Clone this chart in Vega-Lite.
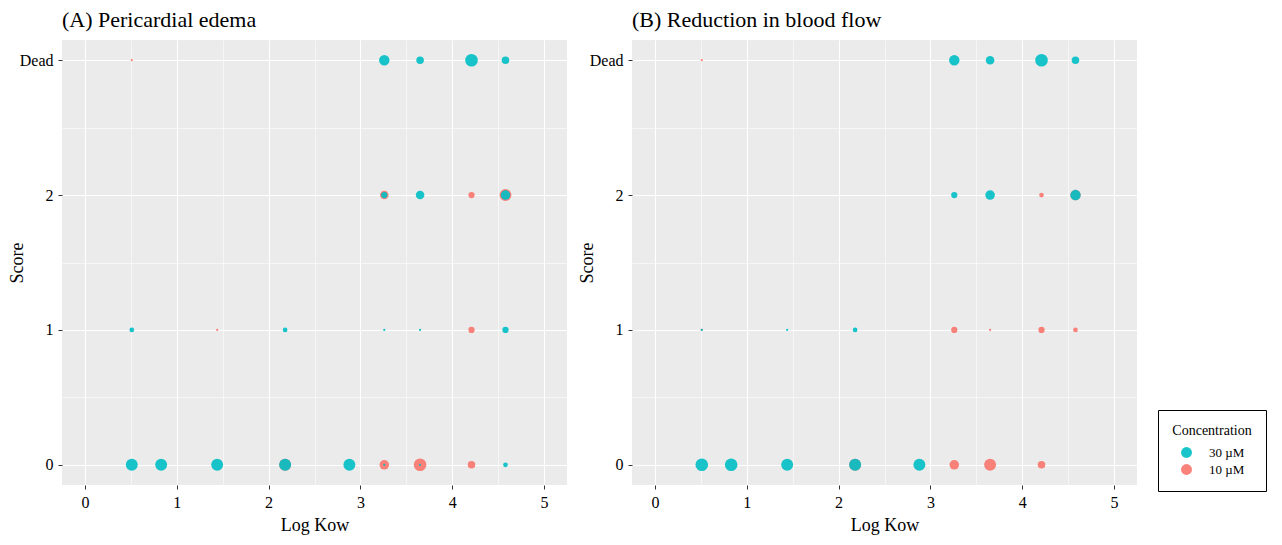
{
  "$schema": "https://vega.github.io/schema/vega-lite/v6.json",
  "background": "white",
  "padding": {"left": 8, "top": 9, "right": 2, "bottom": 2},
  "data": {"values": [
    {"panel": "A", "logKow": 0.51, "score": 3, "concentration": "10 µM", "n": 1},
    {"panel": "A", "logKow": 3.26, "score": 2, "concentration": "10 µM", "n": 5},
    {"panel": "A", "logKow": 4.21, "score": 2, "concentration": "10 µM", "n": 3},
    {"panel": "A", "logKow": 4.58, "score": 2, "concentration": "10 µM", "n": 9},
    {"panel": "A", "logKow": 1.44, "score": 1, "concentration": "10 µM", "n": 1},
    {"panel": "A", "logKow": 4.21, "score": 1, "concentration": "10 µM", "n": 3},
    {"panel": "A", "logKow": 2.18, "score": 0, "concentration": "10 µM", "n": 9},
    {"panel": "A", "logKow": 3.26, "score": 0, "concentration": "10 µM", "n": 6},
    {"panel": "A", "logKow": 3.65, "score": 0, "concentration": "10 µM", "n": 10},
    {"panel": "A", "logKow": 4.21, "score": 0, "concentration": "10 µM", "n": 4},
    {"panel": "B", "logKow": 0.51, "score": 3, "concentration": "10 µM", "n": 1},
    {"panel": "B", "logKow": 4.21, "score": 2, "concentration": "10 µM", "n": 2},
    {"panel": "B", "logKow": 4.58, "score": 2, "concentration": "10 µM", "n": 7},
    {"panel": "B", "logKow": 0.51, "score": 1, "concentration": "10 µM", "n": 1},
    {"panel": "B", "logKow": 3.26, "score": 1, "concentration": "10 µM", "n": 3},
    {"panel": "B", "logKow": 3.65, "score": 1, "concentration": "10 µM", "n": 1},
    {"panel": "B", "logKow": 4.21, "score": 1, "concentration": "10 µM", "n": 3},
    {"panel": "B", "logKow": 4.58, "score": 1, "concentration": "10 µM", "n": 2},
    {"panel": "B", "logKow": 2.18, "score": 0, "concentration": "10 µM", "n": 9},
    {"panel": "B", "logKow": 3.26, "score": 0, "concentration": "10 µM", "n": 6},
    {"panel": "B", "logKow": 3.65, "score": 0, "concentration": "10 µM", "n": 9},
    {"panel": "B", "logKow": 4.21, "score": 0, "concentration": "10 µM", "n": 4},
    {"panel": "A", "logKow": 3.26, "score": 3, "concentration": "30 µM", "n": 7},
    {"panel": "A", "logKow": 3.65, "score": 3, "concentration": "30 µM", "n": 4},
    {"panel": "A", "logKow": 4.21, "score": 3, "concentration": "30 µM", "n": 10},
    {"panel": "A", "logKow": 4.58, "score": 3, "concentration": "30 µM", "n": 4},
    {"panel": "A", "logKow": 3.26, "score": 2, "concentration": "30 µM", "n": 3},
    {"panel": "A", "logKow": 3.65, "score": 2, "concentration": "30 µM", "n": 5},
    {"panel": "A", "logKow": 4.58, "score": 2, "concentration": "30 µM", "n": 6},
    {"panel": "A", "logKow": 0.51, "score": 1, "concentration": "30 µM", "n": 2},
    {"panel": "A", "logKow": 2.18, "score": 1, "concentration": "30 µM", "n": 2},
    {"panel": "A", "logKow": 3.26, "score": 1, "concentration": "30 µM", "n": 1},
    {"panel": "A", "logKow": 3.65, "score": 1, "concentration": "30 µM", "n": 1},
    {"panel": "A", "logKow": 4.58, "score": 1, "concentration": "30 µM", "n": 3},
    {"panel": "A", "logKow": 0.51, "score": 0, "concentration": "30 µM", "n": 9},
    {"panel": "A", "logKow": 0.83, "score": 0, "concentration": "30 µM", "n": 9},
    {"panel": "A", "logKow": 1.44, "score": 0, "concentration": "30 µM", "n": 9},
    {"panel": "A", "logKow": 2.18, "score": 0, "concentration": "30 µM", "n": 9},
    {"panel": "A", "logKow": 2.88, "score": 0, "concentration": "30 µM", "n": 9},
    {"panel": "A", "logKow": 3.26, "score": 0, "concentration": "30 µM", "n": 1},
    {"panel": "A", "logKow": 3.65, "score": 0, "concentration": "30 µM", "n": 1},
    {"panel": "A", "logKow": 4.58, "score": 0, "concentration": "30 µM", "n": 2},
    {"panel": "B", "logKow": 3.26, "score": 3, "concentration": "30 µM", "n": 7},
    {"panel": "B", "logKow": 3.65, "score": 3, "concentration": "30 µM", "n": 5},
    {"panel": "B", "logKow": 4.21, "score": 3, "concentration": "30 µM", "n": 10},
    {"panel": "B", "logKow": 4.58, "score": 3, "concentration": "30 µM", "n": 4},
    {"panel": "B", "logKow": 3.26, "score": 2, "concentration": "30 µM", "n": 3},
    {"panel": "B", "logKow": 3.65, "score": 2, "concentration": "30 µM", "n": 6},
    {"panel": "B", "logKow": 4.58, "score": 2, "concentration": "30 µM", "n": 7},
    {"panel": "B", "logKow": 0.51, "score": 1, "concentration": "30 µM", "n": 1},
    {"panel": "B", "logKow": 1.44, "score": 1, "concentration": "30 µM", "n": 1},
    {"panel": "B", "logKow": 2.18, "score": 1, "concentration": "30 µM", "n": 2},
    {"panel": "B", "logKow": 0.51, "score": 0, "concentration": "30 µM", "n": 10},
    {"panel": "B", "logKow": 0.83, "score": 0, "concentration": "30 µM", "n": 10},
    {"panel": "B", "logKow": 1.44, "score": 0, "concentration": "30 µM", "n": 9},
    {"panel": "B", "logKow": 2.18, "score": 0, "concentration": "30 µM", "n": 9},
    {"panel": "B", "logKow": 2.88, "score": 0, "concentration": "30 µM", "n": 9}
  ]},
  "spacing": 11,
  "hconcat": [
    {
      "width": 505,
      "height": 445,
      "title": {"text": "(A) Pericardial edema"},
      "transform": [{"filter": "datum.panel == 'A'"}],
      "mark": {"type": "circle", "opacity": 0.9},
      "encoding": {
        "x": {"field": "logKow", "type": "quantitative", "title": "Log Kow",
              "scale": {"domain": [-0.25, 5.25], "nice": false, "zero": false},
              "axis": {"values": [0, 0.5, 1, 1.5, 2, 2.5, 3, 3.5, 4, 4.5, 5],
                       "labelExpr": "datum.value % 1 == 0 ? format(datum.value, 'd') : ''",
                       "gridWidth": {"condition": {"test": "datum.value % 1 != 0", "value": 0.55}, "value": 1.1},
                       "tickOpacity": {"condition": {"test": "datum.value % 1 != 0", "value": 0}, "value": 1}}},
        "y": {"field": "score", "type": "quantitative", "title": "Score",
              "scale": {"domain": [-0.15, 3.15], "nice": false, "zero": false},
              "axis": {"values": [0, 0.5, 1, 1.5, 2, 2.5, 3], "titleX": -36,
                       "labelExpr": "datum.value == 3 ? 'Dead' : (datum.value % 1 == 0 ? format(datum.value, 'd') : '')",
                       "gridWidth": {"condition": {"test": "datum.value % 1 != 0", "value": 0.55}, "value": 1.1},
                       "tickOpacity": {"condition": {"test": "datum.value % 1 != 0", "value": 0}, "value": 1}}},
        "color": {"field": "concentration", "type": "nominal",
                  "scale": {"domain": ["30 µM", "10 µM"], "range": ["#00BFC4", "#F8766D"]},
                  "legend": {"title": "Concentration", "orient": "none", "legendX": 1096, "legendY": 370}},
        "size": {"field": "n", "type": "quantitative", "scale": {"domain": [1, 10], "range": [5, 160]}, "legend": null}
      }
    },
    {
      "width": 505,
      "height": 445,
      "title": {"text": "(B) Reduction in blood flow"},
      "transform": [{"filter": "datum.panel == 'B'"}],
      "mark": {"type": "circle", "opacity": 0.9},
      "encoding": {
        "x": {"field": "logKow", "type": "quantitative", "title": "Log Kow",
              "scale": {"domain": [-0.25, 5.25], "nice": false, "zero": false},
              "axis": {"values": [0, 0.5, 1, 1.5, 2, 2.5, 3, 3.5, 4, 4.5, 5],
                       "labelExpr": "datum.value % 1 == 0 ? format(datum.value, 'd') : ''",
                       "gridWidth": {"condition": {"test": "datum.value % 1 != 0", "value": 0.55}, "value": 1.1},
                       "tickOpacity": {"condition": {"test": "datum.value % 1 != 0", "value": 0}, "value": 1}}},
        "y": {"field": "score", "type": "quantitative", "title": "Score",
              "scale": {"domain": [-0.15, 3.15], "nice": false, "zero": false},
              "axis": {"values": [0, 0.5, 1, 1.5, 2, 2.5, 3], "titleX": -36,
                       "labelExpr": "datum.value == 3 ? 'Dead' : (datum.value % 1 == 0 ? format(datum.value, 'd') : '')",
                       "gridWidth": {"condition": {"test": "datum.value % 1 != 0", "value": 0.55}, "value": 1.1},
                       "tickOpacity": {"condition": {"test": "datum.value % 1 != 0", "value": 0}, "value": 1}}},
        "color": {"field": "concentration", "type": "nominal",
                  "scale": {"domain": ["30 µM", "10 µM"], "range": ["#00BFC4", "#F8766D"]},
                  "legend": {"title": "Concentration", "orient": "none", "legendX": 1096, "legendY": 370}},
        "size": {"field": "n", "type": "quantitative", "scale": {"domain": [1, 10], "range": [5, 160]}, "legend": null}
      }
    }
  ],
  "config": {
    "font": "Liberation Serif",
    "view": {"fill": "#EBEBEB", "stroke": null},
    "title": {"font": "Liberation Serif", "fontSize": 22, "fontWeight": "normal", "color": "black", "anchor": "start", "frame": "group", "offset": 8},
    "axis": {
      "domain": false,
      "gridColor": "white",
      "tickColor": "#333333",
      "tickSize": 4,
      "tickWidth": 1,
      "labelFont": "Liberation Serif",
      "labelFontSize": 16,
      "labelColor": "black",
      "labelPadding": 5,
      "labelOverlap": false,
      "labelFlush": false,
      "titleFont": "Liberation Serif",
      "titleFontSize": 18,
      "titleFontWeight": "normal",
      "titleColor": "black",
      "titlePadding": 6
    },
    "legend": {
      "strokeColor": "black",
      "strokeWidth": 1,
      "padding": 14,
      "titleFont": "Liberation Serif",
      "titleFontSize": 14,
      "titleFontWeight": "normal",
      "titleColor": "black",
      "titleAnchor": "middle",
      "titlePadding": 8,
      "labelFont": "Liberation Serif",
      "labelFontSize": 13,
      "labelColor": "black",
      "labelOffset": 16,
      "symbolType": "circle",
      "symbolSize": 120,
      "symbolOpacity": 0.9,
      "symbolStrokeWidth": 0,
      "rowPadding": 3
    }
  }
}
